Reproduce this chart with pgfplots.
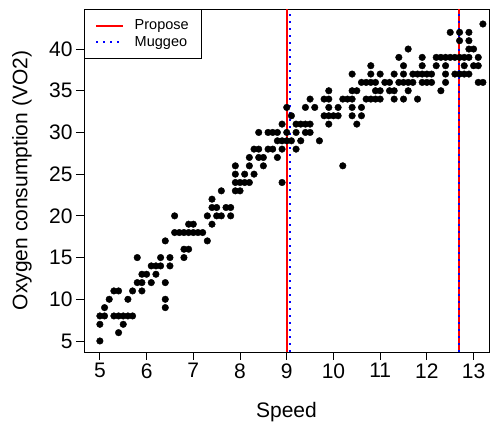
\documentclass[border=0pt]{standalone}
\usepackage{pgfplots}
\usepackage{pgfplotstable}
\pgfplotsset{compat=1.18}
\usepackage{fontspec}
\setmainfont{Liberation Sans}
\pgfplotstableread{
x y
5.0 5
5.4 6
5.0 7
5.5 7
5.0 8
5.1 8
5.3 8
5.4 8
5.5 8
5.6 8
5.7 8
5.1 9
6.4 9
5.2 10
5.6 10
6.4 10
5.3 11
5.4 11
5.7 11
5.9 11
5.8 12
5.9 12
6.1 12
6.4 12
5.9 13
6.0 13
6.2 13
6.1 14
6.2 14
6.3 14
6.5 14
5.8 15
6.3 15
6.5 15
6.8 15
6.8 16
6.9 16
6.4 17
7.3 17
6.6 18
6.7 18
6.8 18
6.9 18
7.0 18
7.1 18
7.2 18
6.9 19
7.0 19
7.4 19
6.6 20
7.3 20
7.5 20
7.6 20
7.8 20
7.4 21
7.5 21
7.7 21
7.8 21
7.4 22
7.6 23
7.9 23
8.0 23
7.9 24
8.0 24
8.1 24
8.2 24
8.9 24
7.9 25
8.1 25
8.3 25
7.9 26
8.2 26
8.5 26
10.2 26
8.2 27
8.4 27
8.5 27
8.8 27
8.3 28
8.4 28
8.6 28
8.7 28
8.9 28
9.2 28
8.8 29
8.9 29
9.0 29
9.1 29
9.3 29
9.7 29
8.4 30
8.6 30
8.7 30
8.8 30
9.0 30
9.2 30
9.4 30
9.5 30
8.9 31
9.2 31
9.3 31
9.4 31
9.5 31
9.9 31
10.5 31
9.1 32
9.8 32
9.9 32
10.0 32
10.1 32
10.4 32
10.6 32
9.0 33
9.4 33
9.6 33
9.9 33
10.1 33
10.4 33
10.6 33
9.5 34
9.8 34
9.9 34
10.2 34
10.3 34
10.4 34
10.7 34
10.8 34
10.9 34
11.0 34
11.3 34
11.5 34
11.8 34
9.9 35
10.4 35
10.5 35
10.9 35
11.0 35
11.2 35
11.3 35
11.6 35
12.3 35
10.6 36
10.7 36
10.8 36
10.9 36
11.1 36
11.2 36
11.4 36
11.5 36
11.6 36
11.7 36
11.9 36
12.0 36
12.1 36
12.4 36
13.1 36
13.2 36
10.4 37
10.8 37
11.0 37
11.3 37
11.5 37
11.7 37
11.8 37
11.9 37
12.0 37
12.1 37
12.4 37
12.6 37
12.7 37
12.8 37
12.9 37
10.8 38
11.5 38
11.9 38
12.2 38
12.4 38
12.8 38
13.0 38
13.1 38
11.4 39
11.9 39
12.2 39
12.3 39
12.4 39
12.5 39
12.6 39
12.7 39
12.8 39
12.9 39
13.1 39
11.6 40
12.9 40
13.0 40
12.7 41
12.9 41
12.5 42
12.7 42
12.9 42
13.2 43
}\vodata
\begin{document}
\begin{tikzpicture}
\useasboundingbox (-84pt,-75pt) rectangle (407pt,352pt);
\begin{axis}[
  scale only axis, width=405pt, height=343pt,
  at={(0pt,0pt)}, anchor=south west,
  xmin=4.66, xmax=13.33, ymin=3.68, ymax=44.8,
  axis line style={line width=0.9pt},
  xtick={5,6,...,13}, ytick={5,10,...,40},
  minor tick num=0,
  tick align=outside, major tick length=8pt,
  tick style={black, line width=0.9pt},
  xtick pos=bottom, ytick pos=left,
  /pgf/number format/assume math mode=true,
  ticklabel style={font=\fontsize{21}{25}\selectfont},
  xlabel={Speed}, ylabel={Oxygen consumption (VO2)},
  label style={font=\fontsize{21}{25}\selectfont},
  xlabel style={at={(axis description cs:0.5,-0.175)}, anchor=center},
  ylabel style={at={(axis description cs:-0.153,0.5)}, anchor=center},
  legend style={draw=black, line width=0.9pt, at={(0,1)}, anchor=north west,
    font=\fontsize{14.5}{17}\selectfont, inner xsep=11pt, inner ysep=9pt,
    row sep=2pt, nodes={inner sep=1.5pt},
    /tikz/every odd column/.append style={column sep=9pt}},
  legend cell align=left,
  legend image code/.code={\draw[#1] (0pt,0pt) -- (27pt,0pt);},
]
\addplot[only marks, mark=*, mark size=3.3pt, black, forget plot] table[x=x,y=y] {\vodata};
\addplot[red, line width=1.8pt] coordinates {(9.0,3.68) (9.0,44.8)};
\addlegendentry{Propose}
\addplot[blue, line width=1.8pt, dash pattern=on 2pt off 5pt] coordinates {(9.07,3.68) (9.07,44.8)};
\addlegendentry{Muggeo}
\addplot[red, line width=1.8pt, forget plot] coordinates {(12.68,3.68) (12.68,44.8)};
\addplot[blue, line width=1.8pt, dash pattern=on 2pt off 5pt, forget plot] coordinates {(12.68,3.68) (12.68,44.8)};
\end{axis}
\end{tikzpicture}
\end{document}
